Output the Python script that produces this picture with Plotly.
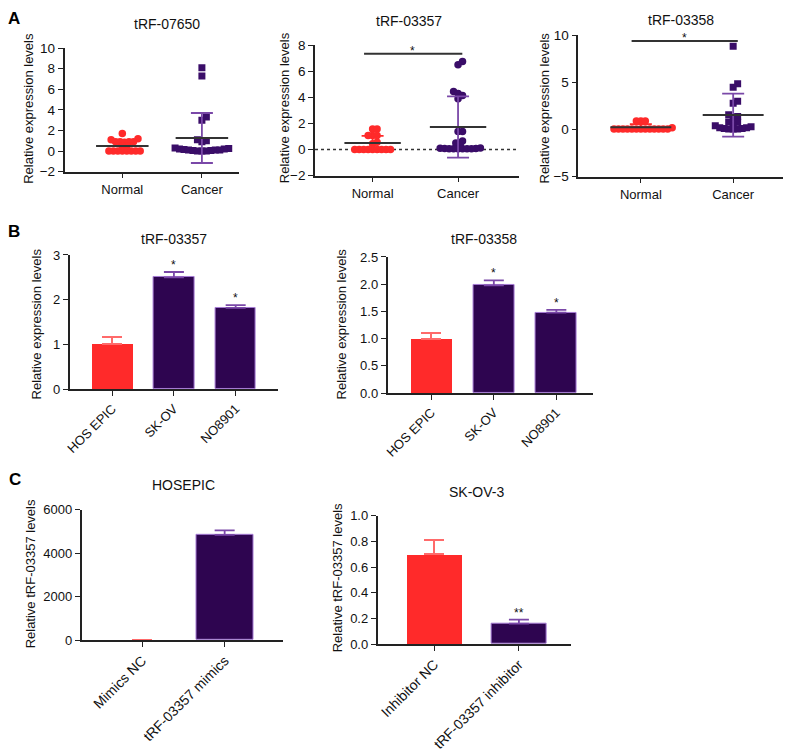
import plotly.graph_objects as go

W, H = 787, 756
FONT = "Liberation Sans, Arial, sans-serif"
RED = "#FF2A2A"
PURPLE = "#3A0D68"
PURPLE_BAR = "#2E0550"
PURPLE_ERR = "#7A48A8"
RED_ERR = "#FF6A6A"
AXC = "#222222"

# ---------------- Data ----------------
groups_A = ["Normal", "Cancer"]

a1_title = "tRF-07650"
a1_normal = [1.7, 1.2, 1.1, 0.9, 0.9, 0.85, 0.9, 0.9, 0.5, 0.45, 0.0, 0.0, 0.0, 0.0, 0.0, 0.0, 0.0, 0.0]
a1_cancer = [8.1, 7.3, 3.3, 3.0, 1.1, 1.0, 0.9, 0.3, 0.25, 0.2, 0.2, 0.15, 0.1, 0.1, 0.1, 0.05, 0.05, 0.0, 0.0, 0.0]
a1_mean = [0.5, 1.27]
a1_sd = [0.45, 2.43]

a2_title = "tRF-03357"
a2_normal = [1.58, 1.58, 1.08, 1.08, 1.08, 0.55, 0.45, 0.0, 0.0, 0.0, 0.0, 0.0, 0.0, 0.0, 0.0, 0.0]
a2_cancer = [6.75, 6.5, 4.45, 4.3, 4.15, 3.9, 1.38, 1.38, 0.65, 0.5, 0.33, 0.12, 0.1, 0.08, 0.08, 0.05, 0.05, 0.05, 0.05, 0.05, 0.05]
a2_mean = [0.5, 1.73]
a2_sd = [0.55, 2.35]
a2_sig = 7.35

a3_title = "tRF-03358"
a3_normal = [0.9, 0.9, 0.9, 0.2, 0.05, 0.05, 0.05, 0.05, 0.05, 0.05, 0.05, 0.05, 0.05, 0.05, 0.05, 0.05, 0.05]
a3_cancer = [8.85, 4.86, 4.5, 3.0, 2.78, 1.56, 1.39, 1.2, 0.8, 0.76, 0.5, 0.4, 0.3, 0.2, 0.1, 0.05, 0.05, 0.05, 0.1, 0.2]
a3_mean = [0.25, 1.53]
a3_sd = [0.33, 2.29]
a3_sig = 9.4

b_cells = ["HOS EPIC", "SK-OV", "NO8901"]
b1_title = "tRF-03357"
b1_vals = [1.02, 2.50, 1.82]
b1_err = [0.15, 0.12, 0.06]
b1_star = ["", "*", "*"]
b2_title = "tRF-03358"
b2_vals = [1.00, 1.98, 1.48]
b2_err = [0.11, 0.09, 0.05]
b2_star = ["", "*", "*"]

c1_title = "HOSEPIC"
c1_groups = ["Mimics NC", "tRF-03357 mimics"]
c1_vals = [1.0, 4850]
c1_err = [0.0, 200]
c2_title = "SK-OV-3"
c2_groups = ["Inhibitor NC", "tRF-03357 inhibitor"]
c2_vals = [0.70, 0.16]
c2_err = [0.11, 0.03]
c2_star = ["", "**"]

# ---------------- Panel geometry (pixels) ----------------
panels = {
    "A1": dict(l=60, r=235, t=42, b=168, xr=[-0.725, 1.46], yr=[-2, 10], yt=[-2, 0, 2, 4, 6, 8, 10], fmt="d", fs=13.5, cfs=13),
    "A2": dict(l=312, r=517, t=39, b=172, xr=[-0.674, 1.71], yr=[-2, 8], yt=[-2, 0, 2, 4, 6, 8], fmt="d", fs=13.5, cfs=13),
    "A3": dict(l=577, r=783, t=29, b=173, xr=[-0.677, 1.54], yr=[-5, 10], yt=[-5, 0, 5, 10], fmt="d", fs=13.5, cfs=13),
    "B1": dict(l=65, r=275, t=253, b=390, xr=[-0.69, 2.69], yr=[0, 3], yt=[0, 1, 2, 3], fmt="d", fs=13, cfs=13),
    "B2": dict(l=385, r=592, t=255, b=394, xr=[-0.70, 2.59], yr=[0, 2.5], yt=[0, 0.5, 1.0, 1.5, 2.0, 2.5], fmt=".1f", fs=13, cfs=13),
    "C1": dict(l=77, r=280, t=513, b=646, xr=[-0.735, 1.71], yr=[0, 6000], yt=[0, 2000, 4000, 6000], fmt="d", fs=13, cfs=14),
    "C2": dict(l=375, r=570, t=519, b=650, xr=[-0.67, 1.62], yr=[0, 1.0], yt=[0, 0.2, 0.4, 0.6, 0.8, 1.0], fmt=".1f", fs=13, cfs=14),
}

fig = go.Figure()
layout = dict(width=W, height=H, margin=dict(l=0, r=0, t=0, b=0),
              paper_bgcolor="white", plot_bgcolor="white", showlegend=False,
              font=dict(family=FONT, color="#111", size=12))
annotations = []

names = list(panels.keys())
axmap = {}
for i, key in enumerate(names):
    p = panels[key]
    n = "" if i == 0 else str(i + 1)
    xa, ya = "xaxis" + n, "yaxis" + n
    xref, yref = "x" + n, "y" + n
    axmap[key] = (xref, yref)
    p["ppx"] = (p["r"] - p["l"]) / (p["xr"][1] - p["xr"][0])
    p["ppy"] = (p["b"] - p["t"]) / (p["yr"][1] - p["yr"][0])
    layout[xa] = dict(domain=[p["l"] / W, p["r"] / W], range=p["xr"], anchor=yref,
                      showline=True, linecolor=AXC, linewidth=1.6, ticks="outside",
                      ticklen=5, tickwidth=1.4, tickcolor=AXC, showgrid=False, zeroline=False,
                      tickfont=dict(size=p["cfs"], family=FONT, color="#111"), fixedrange=True)
    layout[ya] = dict(domain=[1 - p["b"] / H, 1 - p["t"] / H], range=p["yr"], anchor=xref,
                      showline=True, linecolor=AXC, linewidth=1.6, ticks="outside",
                      ticklen=5, tickwidth=1.4, tickcolor=AXC, showgrid=False, zeroline=False,
                      tickvals=p["yt"], tickformat=p["fmt"],
                      tickfont=dict(size=p["fs"], family=FONT, color="#111"), fixedrange=True)


def swarm(values, ppx, ppy, d):
    order = sorted(range(len(values)), key=lambda k: values[k])
    placed = []
    offs = [0.0] * len(values)
    cands = [0.0]
    for s in range(1, 60):
        cands += [s * d / 2, -s * d / 2]
    for k in order:
        y = values[k] * ppy
        for x in cands:
            if all((x - px) ** 2 + (y - py) ** 2 >= d * d * 0.9 for px, py in placed):
                placed.append((x, y))
                offs[k] = x / ppx
                break
    return offs


def scatter_panel(key, normal, cancer, means, sds, csym, sig=None, dotted=False):
    p = panels[key]
    xref, yref = axmap[key]
    if dotted:
        fig.add_trace(go.Scatter(x=p["xr"], y=[0, 0], mode="lines", xaxis=xref, yaxis=yref,
                                 line=dict(color="#333", width=1.3, dash="dot"), hoverinfo="skip"))
    for gi, (vals, col, sym, ecol) in enumerate([(normal, RED, "circle", RED),
                                                  (cancer, PURPLE, csym, PURPLE_ERR)]):
        offs = swarm(vals, p["ppx"], p["ppy"], 4.5)
        fig.add_trace(go.Scatter(x=[gi + o for o in offs], y=vals, mode="markers",
                                 xaxis=xref, yaxis=yref,
                                 marker=dict(symbol=sym, size=7.5 if sym == "circle" else 7, color=col,
                                             line=dict(width=0))))
        fig.add_trace(go.Scatter(x=[gi], y=[means[gi]], mode="markers", xaxis=xref, yaxis=yref,
                                 marker=dict(size=1, color="rgba(0,0,0,0)"),
                                 error_y=dict(type="data", array=[sds[gi]], color=ecol,
                                              thickness=1.8, width=11)))
        fig.add_trace(go.Scatter(x=[gi - 0.33, gi + 0.33], y=[means[gi]] * 2, mode="lines",
                                 xaxis=xref, yaxis=yref, line=dict(color="#333", width=2)))
    layout[xref.replace("x", "xaxis")].update(tickvals=[0, 1], ticktext=groups_A)
    if sig is not None:
        fig.add_trace(go.Scatter(x=[-0.1, 1.05], y=[sig, sig], mode="lines", xaxis=xref, yaxis=yref,
                                 line=dict(color="#333", width=2)))
        annotations.append(dict(x=0.47, y=sig, xref=xref, yref=yref, text="*", showarrow=False,
                                yshift=3, font=dict(size=12, color="#111")))


def bar_panel(key, cats, vals, errs, stars, width, angle=-45):
    p = panels[key]
    xref, yref = axmap[key]
    xs = list(range(len(cats)))
    for i, (v, e) in enumerate(zip(vals, errs)):
        red = (i == 0)
        fig.add_trace(go.Bar(x=[xs[i]], y=[v], width=width, xaxis=xref, yaxis=yref,
                             marker=dict(color=RED if red else PURPLE_BAR,
                                         line=dict(color="#A57BD3", width=0 if red else 1)),
                             error_y=dict(type="data", symmetric=False, array=[e], arrayminus=[0],
                                          color=RED_ERR if red else PURPLE_ERR, thickness=1.8,
                                          width=10)))
        if stars and stars[i]:
            annotations.append(dict(x=xs[i], y=v + e, xref=xref, yref=yref, text=stars[i],
                                    showarrow=False, yshift=7, font=dict(size=12, color="#111")))
    layout[xref.replace("x", "xaxis")].update(tickvals=xs, ticktext=cats, tickangle=angle)


scatter_panel("A1", a1_normal, a1_cancer, a1_mean, a1_sd, "square")
scatter_panel("A2", a2_normal, a2_cancer, a2_mean, a2_sd, "circle", sig=a2_sig, dotted=True)
scatter_panel("A3", a3_normal, a3_cancer, a3_mean, a3_sd, "square", sig=a3_sig)
bar_panel("B1", b_cells, b1_vals, b1_err, b1_star, 0.66)
bar_panel("B2", b_cells, b2_vals, b2_err, b2_star, 0.66)
bar_panel("C1", c1_groups, c1_vals, c1_err, None, 0.69)
bar_panel("C2", c2_groups, c2_vals, c2_err, c2_star, 0.65)

titles = [(a1_title, 163, 17), (a2_title, 407, 14), (a3_title, 680, 13),
          (b1_title, 170, 237), (b2_title, 482, 237), (c1_title, 180, 488), (c2_title, 475, 495)]
for t, x, y in titles:
    annotations.append(dict(x=x / W, y=1 - y / H, xref="paper", yref="paper", text=t, showarrow=False,
                            xanchor="center", yanchor="middle", font=dict(size=14, color="#111")))

ytitles = [("Relative expression levels", 24, 103), ("Relative expression levels", 282, 103),
           ("Relative expression levels", 543, 103), ("Relative expression levels", 32, 323),
           ("Relative expression levels", 339, 323), ("Relative tRF-03357 levels", 26, 578),
           ("Relative tRF-03357 levels", 335, 582)]
for t, x, y in ytitles:
    annotations.append(dict(x=x / W, y=1 - y / H, xref="paper", yref="paper", text=t, showarrow=False,
                            textangle=-90, xanchor="center", yanchor="middle",
                            font=dict(size=13, color="#111")))

for t, x, y in [("A", 9, 12), ("B", 9, 229), ("C", 10, 482)]:
    annotations.append(dict(x=x / W, y=1 - y / H, xref="paper", yref="paper", text="<b>%s</b>" % t,
                            showarrow=False, xanchor="center", yanchor="middle",
                            font=dict(size=17, color="#000")))

layout["annotations"] = annotations
layout["bargap"] = 0
fig.update_layout(**layout)
fig.write_html("out.html", config={"displayModeBar": False},
               post_script="document.body.style.margin='0';document.body.style.overflow='hidden';")
